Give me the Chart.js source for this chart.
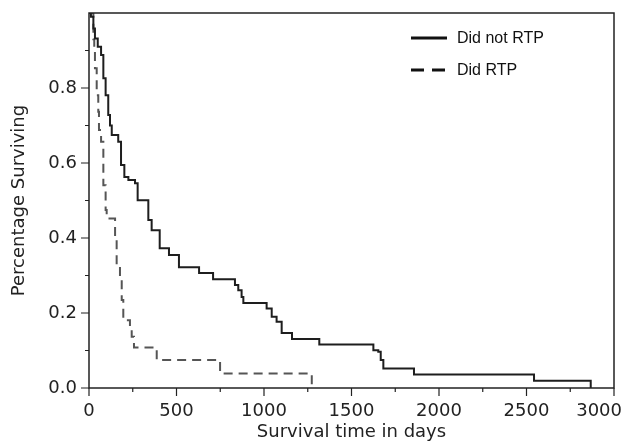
<!DOCTYPE html>
<html>
<head>
<meta charset="utf-8">
<title>Survival time</title>
<script src="https://cdn.jsdelivr.net/npm/chart.js@4.4.0/dist/chart.umd.min.js"></script>
<style>
  body { margin: 0; background: #fff; }
</style>
</head>
<body>
<canvas id="kmChart" width="630" height="444"></canvas>
<script>
// Kaplan-Meier steps: day of drop, survival after it
var notRtpDays = [0, 11, 25, 34, 50, 69, 82, 95, 110, 120, 130, 167, 183, 202, 225, 263, 278, 339, 358, 404, 457, 514, 629, 709, 834, 853, 872, 882, 1015, 1044, 1072, 1101, 1160, 1316, 1625, 1653, 1667, 1682, 1857, 2543, 2867];
var notRtpSurv = [1.0, 0.99, 0.959, 0.932, 0.91, 0.888, 0.826, 0.781, 0.728, 0.70, 0.675, 0.657, 0.595, 0.563, 0.555, 0.546, 0.501, 0.448, 0.421, 0.373, 0.355, 0.322, 0.307, 0.29, 0.275, 0.261, 0.243, 0.227, 0.212, 0.19, 0.177, 0.147, 0.131, 0.116, 0.101, 0.097, 0.075, 0.052, 0.036, 0.0195, 0.0];

var rtpDays = [0, 25, 30, 34, 44, 53, 57, 69, 82, 95, 101, 149, 158, 177, 187, 196, 234, 244, 257, 387, 749, 1273];
var rtpSurv = [1.0, 0.93, 0.906, 0.853, 0.781, 0.737, 0.688, 0.657, 0.541, 0.475, 0.452, 0.404, 0.323, 0.297, 0.235, 0.181, 0.163, 0.137, 0.108, 0.075, 0.039, 0.0];

var xTickLabels = [0, 500, 1000, 1500, 2000, 2500, 3000];
var yTickLabels = [0.0, 0.2, 0.4, 0.6, 0.8];

function toPoints(days, surv) {
  return days.map(function(d, i) { return { x: d, y: surv[i] }; });
}

// frame, major/minor tick marks, x labels and the legend inside the plot
var axisExtras = {
  id: 'axisExtras',
  afterDraw: function(chart) {
    var ctx = chart.ctx, area = chart.chartArea;
    var xs = chart.scales.x, ys = chart.scales.y;
    ctx.save();
    ctx.strokeStyle = '#222';
    ctx.lineWidth = 1.5;
    ctx.strokeRect(area.left, area.top, area.right - area.left, area.bottom - area.top);

    ctx.lineWidth = 1.2;
    ctx.beginPath();
    xs.ticks.forEach(function(t) {
      var px = xs.getPixelForValue(t.value);
      var len = t.value % 500 === 0 ? 8 : 4;
      ctx.moveTo(px, area.bottom);
      ctx.lineTo(px, area.bottom + len);
    });
    ys.ticks.forEach(function(t) {
      var tenth = Math.round(t.value * 10);
      if (tenth >= 10) return;
      var py = ys.getPixelForValue(t.value);
      var len = tenth % 2 === 0 ? 8 : 4;
      ctx.moveTo(area.left - len, py);
      ctx.lineTo(area.left, py);
    });
    ctx.stroke();

    ctx.font = '18px "DejaVu Sans"';
    ctx.fillStyle = '#222';
    ctx.textAlign = 'center';
    ctx.textBaseline = 'middle';
    xTickLabels.forEach(function(v) {
      var txt = String(v);
      var w = ctx.measureText(txt).width;
      var px = Math.min(xs.getPixelForValue(v), chart.width - 8 - w / 2);
      ctx.fillText(txt, px, area.bottom + 23);
    });

    ctx.font = '16px "Liberation Sans"';
    ctx.textAlign = 'left';
    ctx.fillStyle = '#111';
    chart.data.datasets.forEach(function(ds, i) {
      var y = area.top + 25 + i * 32;
      ctx.strokeStyle = '#111';
      ctx.lineWidth = 3;
      ctx.setLineDash(i === 0 ? [] : [13, 8]);
      ctx.beginPath();
      ctx.moveTo(area.left + 322, y);
      ctx.lineTo(area.left + 358, y);
      ctx.stroke();
      ctx.setLineDash([]);
      ctx.fillText(ds.label, area.left + 368, y + 1);
    });
    ctx.restore();
  }
};

var ctx = document.getElementById('kmChart');

var kmChart = new Chart(ctx, {
  type: 'line',
  data: {
    datasets: [
      {
        label: 'Did not RTP',
        data: toPoints(notRtpDays, notRtpSurv),
        borderColor: '#1e1e1e',
        borderWidth: 2,
        stepped: true,
        pointRadius: 0,
        fill: false
      },
      {
        label: 'Did RTP',
        data: toPoints(rtpDays, rtpSurv),
        borderColor: '#555',
        borderWidth: 2,
        borderDash: [9, 6],
        stepped: true,
        pointRadius: 0,
        fill: false
      }
    ]
  },
  options: {
    responsive: false,
    animation: false,
    events: [],
    layout: { padding: { top: 13, right: 16, left: 0, bottom: 0 } },
    plugins: {
      legend: { display: false },
      tooltip: { enabled: false }
    },
    scales: {
      x: {
        type: 'linear',
        min: 0,
        max: 3000,
        grid: { display: false, drawTicks: false },
        border: { display: false },
        ticks: { display: false, stepSize: 250, autoSkip: false },
        title: {
          display: true,
          text: 'Survival time in days',
          color: '#222',
          font: { family: 'DejaVu Sans', size: 18 },
          padding: { top: 0, bottom: 1 }
        },
        afterFit: function(s) {
          s.height = 56;
          s.paddingLeft = 0;
          s.paddingRight = 0;
        }
      },
      y: {
        min: 0,
        max: 1,
        grid: { display: false, drawTicks: false },
        border: { display: false },
        ticks: {
          stepSize: 0.1,
          autoSkip: false,
          padding: 12,
          color: '#222',
          font: { family: 'DejaVu Sans', size: 18 },
          callback: function(v) {
            var tenth = Math.round(v * 10);
            var hit = yTickLabels.some(function(l) { return Math.round(l * 10) === tenth; });
            return hit ? (tenth / 10).toFixed(1) : '';
          }
        },
        title: {
          display: true,
          text: 'Percentage Surviving',
          color: '#222',
          font: { family: 'DejaVu Sans', size: 18 },
          padding: { top: 9, bottom: 0 }
        },
        afterFit: function(s) {
          s.width = 89;
          s.paddingTop = 0;
          s.paddingBottom = 0;
        }
      }
    }
  },
  plugins: [axisExtras]
});
</script>
</body>
</html>
